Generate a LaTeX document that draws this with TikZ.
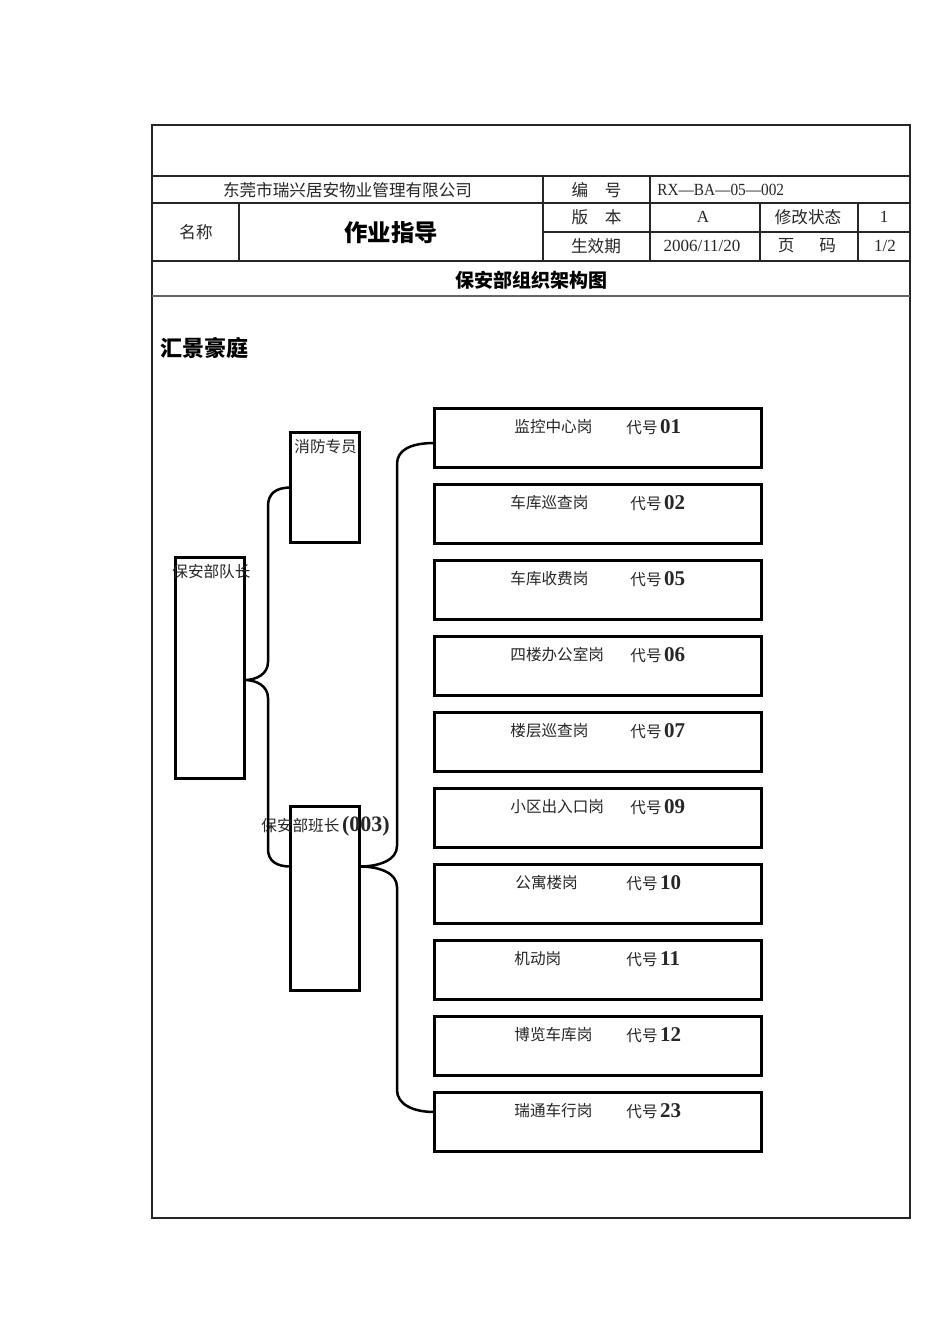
\documentclass[tikz,border=0pt]{standalone}
\usepackage{fontspec}
\setmainfont{Liberation Serif}
\newfontfamily\cjk{Noto Sans CJK SC}
\newcommand\fsz[1]{\fontsize{#1}{#1}\selectfont}
\begin{document}
\begin{tikzpicture}[x=0.5pt,y=-0.5pt,
  tline/.style={line width=0.55pt,draw=black!85},
  ttxt/.style={inner sep=0pt,text=black!85,font=\cjk\fsz{8.3pt}},
  bigbox/.style={draw=black,line width=1.5pt,inner sep=0pt,outer sep=0pt,minimum width=34.5pt},
  rbox/.style={draw=black,line width=1.5pt,inner sep=0pt,outer sep=0pt,minimum width=163.5pt,minimum height=29.5pt},
  lbl/.style={inner sep=0pt,text=black!85,font=\cjk\fsz{7.8pt}},
  brace/.style={line width=1.25pt,draw=black}]
\useasboundingbox (0,0) rectangle (950,1344);
\fill[white] (0,0) rectangle (950,1344);
% table frame
\draw[tline] (152,125) rectangle (910,1218);
\draw[tline] (152,176) -- (910,176);
\draw[tline] (152,203) -- (910,203);
\draw[tline] (152,261) -- (910,261);
\draw[line width=1pt,draw=black!60] (152,296) -- (910,296);
\draw[tline] (543,176) -- (543,261);
\draw[tline] (650,176) -- (650,261);
\draw[tline] (239,203) -- (239,261);
\draw[tline] (760,203) -- (760,261);
\draw[tline] (858,203) -- (858,261);
\draw[tline] (543,232) -- (910,232);
% table texts
\node[ttxt] (company) at (347.5,190) {东莞市瑞兴居安物业管理有限公司};
\node[ttxt] (bianhao) at (596.5,190) {编\hspace{1em}号};
\node[ttxt,anchor=west,font=\rmfamily\fsz{8.5pt}] (code) at (657,190) {\scalebox{0.9}[1]{RX—BA—05—002}};
\node[ttxt] (mingcheng) at (196,232) {名称};
\node[inner sep=0pt,font=\cjk\bfseries\fsz{11.7pt}] (zuoye) at (391,233) {作业指导};
\node[ttxt] (banben) at (596.5,217) {版\hspace{1em}本};
\node[ttxt,font=\rmfamily\fsz{8.5pt}] (verA) at (703,217) {A};
\node[ttxt] (xiugai) at (808,217) {修改状态};
\node[ttxt,font=\rmfamily\fsz{8.5pt}] (one) at (884,217) {1};
\node[ttxt] (shengxiao) at (596,246) {生效期};
\node[ttxt,font=\rmfamily\fsz{8.5pt}] (date) at (702,246) {2006/11/20};
\node[ttxt] (yema) at (807,246) {页\hspace{1.5em}码};
\node[ttxt,font=\rmfamily\fsz{8.5pt}] (page) at (885,246) {1/2};
\node[inner sep=0pt,font=\cjk\bfseries\fsz{9.5pt}] (title) at (531,280) {保安部组织架构图};
\node[inner sep=0pt,anchor=west,font=\cjk\bfseries\fsz{11pt}] (site) at (160,348) {汇景豪庭};
% left boxes
\node[bigbox,minimum height=110.5pt] (dz) at (210,668) {};
\node[bigbox,minimum height=55pt] (xf) at (325,487.5) {};
\node[bigbox,minimum height=92pt] (bz) at (325,898.5) {};
\node[lbl,anchor=west] (dzt) at (172,572) {保安部队长};
\node[lbl,anchor=west] (xft) at (294,447) {消防专员};
\node[lbl,anchor=west] (bzt) at (261,826) {保安部班长\,{\rmfamily\bfseries\fsz{11pt}(003)}};
% right boxes
\foreach \i/\lab/\lx/\cx/\num in {0/监控中心岗/514/626/01,1/车库巡查岗/510/630/02,2/车库收费岗/510/630/05,3/四楼办公室岗/510/630/06,4/楼层巡查岗/510/630/07,5/小区出入口岗/510/630/09,6/公寓楼岗/515/626/10,7/机动岗/514/626/11,8/博览车库岗/514/626/12,9/瑞通车行岗/514/626/23}{
  \node[rbox] (r\i) at (598,{438+76*\i}) {};
  \node[lbl,anchor=west] (rl\i) at (\lx,{427+76*\i}) {\lab};
  \node[lbl,anchor=west] (rc\i) at (\cx,{427+76*\i}) {代号\,{\rmfamily\bfseries\fsz{10.5pt}\num}};
}
% brace 1
\draw[brace] (xf.west) .. controls +(-15,0) and +(0,-12) .. (268,506) -- (268,662)
  .. controls +(0,12) and +(12,0) .. ([yshift=-6pt]dz.east)
  .. controls +(12,0) and +(0,-12) .. (268,698) -- (268,849)
  .. controls +(0,12) and +(-14,0) .. ([yshift=16pt]bz.west);
% brace 2
\draw[brace] ([yshift=-2.5pt]r0.west) .. controls +(-24,0) and +(0,-14) .. (397,464) -- (397,846)
  .. controls +(0,14) and +(20,0) .. ([yshift=16pt]bz.east)
  .. controls +(20,0) and +(0,-14) .. (397,887) -- (397,1090)
  .. controls +(0,14) and +(-22,0) .. ([yshift=5pt]r9.west);
\end{tikzpicture}
\end{document}
